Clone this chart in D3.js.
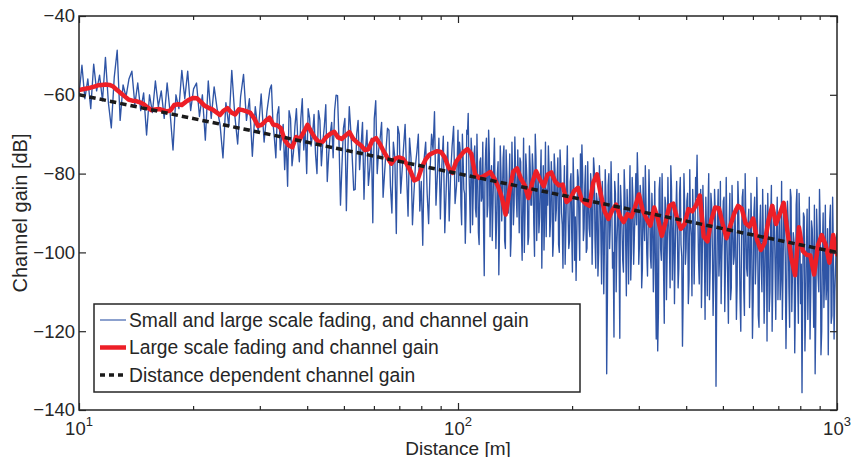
<!DOCTYPE html>
<html>
<head>
<meta charset="utf-8">
<script src="https://cdn.jsdelivr.net/npm/d3@7"></script>
<style>
  body { margin: 0; background: #fff; }
  text { font-family: "Liberation Sans", Arial, Helvetica, sans-serif; fill: #262626; }
</style>
</head>
<body>
<svg id="chart" width="853" height="457"></svg>
<script>
// Axis ranges and ticks
const xDomain = [10, 1000];
const yDomain = [-140, -40];
const yTicks = [-140, -120, -100, -80, -60, -40];
const xMajorTicks = [10, 100, 1000];
const xTickExponents = ["1", "2", "3"];
const xMinorTicks = [20, 30, 40, 50, 60, 70, 80, 90, 200, 300, 400, 500, 600, 700, 800, 900];

// Small and large scale fading [dB], 10 m .. 100 m (log-spaced samples)
const blueNear = [
  -60.0,-52.5,-61.0,-56.0,-63.5,-52.2,-59.0,-55.0,-61.5,-50.5,
  -62.0,-68.4,-55.5,-48.7,-66.5,-57.5,-60.5,-56.0,-54.0,-62.5,
  -57.0,-64.0,-59.5,-70.2,-60.0,-64.5,-56.5,-63.0,-59.0,-66.0,
  -57.0,-64.5,-74.0,-60.0,-63.5,-53.8,-61.0,-54.0,-64.0,-58.5,
  -57.0,-65.5,-60.0,-71.5,-56.5,-66.0,-58.0,-63.5,-67.5,-76.0,
  -62.0,-68.0,-53.8,-65.0,-72.5,-60.5,-54.8,-66.5,-61.0,-75.6,
  -63.0,-69.5,-59.8,-72.0,-64.0,-58.5,-67.0,-76.0,-63.0,-70.5,
  -79.0,-83.2,-66.0,-74.5,-63.5,-77.0,-61.0,-69.0,-63.5,-73.0,
  -65.0,-80.0,-66.5,-72.0,-62.5,-75.0,-67.0,-64.0,-60.2,-88.0,
  -68.5,-89.4,-63.0,-76.0,-84.0,-66.5,-73.0,-86.5,-69.0,-78.5,
  -92.5,-61.5,-74.0,-67.0,-80.0,-68.5,-83.0,-72.0,-95.2,-70.0,
  -79.0,-67.5,-90.8,-76.0,-85.0,-74.5,-89.5,-98.2,-72.0,-92.7,
  -70.0,-64.3,-80.0,-91.5,-70.5,-83.5,-92.0,-73.0,-87.6,-69.0
];

// Extra samples half-way between the near samples, 31.6 m .. 100 m
const blueNearMid = [
  -57.5,-71,-65,-74,-67.5,-71,-64,-78,
  -68,-72,-66,-74,-80,-66,-70,-75,
  -64,-78,-68,-82,-70,-76,-60.1,-72,
  -78,-66,-74,-69,-84.2,-70,-79,-67,
  -74,-83,-71,-66,-80,-71,-86,-74,
  -69,-90,-76,-68,-85,-73,-80,-71,
  -93,-78,-70,-82,-76,-85,-79,-74,
  -88,-71,-78,-95,-72,-80,-68,-83
];

// Small and large scale fading [dB], 100 m .. 1000 m (log-spaced samples)
const blueFar = [
  -72,-88,-70,-84,-97.7,-69,-64.7,-86,-71,-93,
  -75,-89,-70,-95,-77,-87,-72,-105.9,-74,-91,
  -69,-96,-78,-88,-71,-99,-80,-105.7,-73,-92,
  -76,-97,-74,-89,-83,-101,-72,-93,-70.7,-86,
  -74,-95,-77,-102,-71,-90,-79,-98,-73,-88,
  -75,-93,-70,-97,-80,-91,-74,-88,-99.4,-72,
  -84,-73,-96,-77,-101,-75,-92,-81,-98,-74,
  -90,-104,-78,-94,-73,-99,-82,-95,-76,-102,
  -107.1,-79,-93,-75,-72.7,-97,-83,-100,-77,-94,
  -80,-103,-76,-97,-85,-106,-78,-95,-82,-110.5,
  -79,-130.8,-83,-99,-77,-104,-121.5,-85,-98,-80,
  -121.8,-88,-102,-79,-97,-84,-108,-78,-100,-86,
  -96,-80,-74.7,-103,-83,-109,-81,-97,-88,-106,
  -79,-101,-85,-110,-82,-122,-125,-84,-99,-80,
  -104,-86,-112,-81,-97,-78,-107,-89,-100,-82,
  -109,-85,-98,-123.8,-80,-103,-87,-113,-79,-96,
  -84,-108,-81,-75.3,-102,-90,-114,-83,-99,-86,
  -111,-80,-104,-88,-116,-84,-134,-91,-106,-82,
  -101,-87,-115,-81,-107,-93,-112,-83,-103,-89,
  -117,-82,-98,-120,-86,-109,-80,-104,-92,-114,
  -85,-121.8,-90,-108,-81,-116,-94,-103,-84,-118,
  -88,-122.5,-97,-110,-83,-106,-91,-117,-86,-101,
  -112,-82,-105,-93,-124.4,-87,-109,-84,-115,-95,
  -125.5,-88,-107,-85,-113,-135.6,-90,-125,-98,-117,
  -86,-110,-94,-119,-130.8,-89,-106,-84,-126,-99,
  -114,-88,-108,-126,-92,-118,-86,-122,-104,-95
];

// Extra samples half-way between the far samples, 100 m .. 1000 m
const blueFarMid = [
  -82,-74,-93,-76,-85,-90,-70,-79,-95,-75,
  -84,-73,-91,-80,-98,-76,-86,-93,-81,-71,
  -88,-75,-83,-97,-78,-86,-92,-77,-94,-80,
  -85,-73,-99,-80,-90,-75,-96,-82,-88,-79,
  -91,-83,-76,-94,-86,-100,-75,-84,-96,-78,
  -88,-79,-101,-76,-86,-95,-82,-104,-78,-89,
  -96,-88,-79,-92,-83,-97,-79,-89,-76,-100,
  -79,-93,-87,-103,-82,-90,-97,-80,-105,-84,
  -91,-96,-81,-102,-86,-80,-94,-78,-99,-88,
  -96,-83,-92,-79,-104,-87,-100,-84,-108,-90,
  -97,-86,-112,-80,-93,-87,-100,-82,-110,-92,
  -99,-83,-94,-105,-85,-111,-91,-88,-107,-81,
  -103,-89,-93,-82,-98,-86,-104,-92,-78,-100,
  -93,-87,-104,-91,-98,-108,-90,-115,-81,-102,
  -92,-118,-88,-100,-92,-109,-84,-96,-113,-90,
  -95,-104,-81,-101,-110,-88,-99,-85,-107,-93,
  -111,-91,-97,-86,-89,-108,-84,-104,-92,-117,
  -95,-89,-112,-85,-99,-106,-90,-110,-84,-100,
  -113,-94,-86,-103,-96,-118,-85,-109,-93,-101,
  -98,-108,-88,-112,-97,-84,-116,-93,-106,-89,
  -105,-97,-112,-86,-101,-93,-119,-88,-110,-97,
  -107,-94,-85,-115,-92,-120,-88,-103,-95,-112,
  -90,-106,-117,-88,-101,-110,-92,-119,-86,-104,
  -97,-112,-84,-118,-94,-103,-108,-91,-114,-89,
  -104,-122,-92,-101,-88,-115,-96,-110,-93,-120,
  -90,-106,-112,-94,-104,-88,-116,-99,-110,-97
];

// Large scale fading and channel gain [dB], 10 m .. 1000 m (log-spaced samples)
const redGain = [
  -58.8,-58.6,-58.4,-58.2,-57.9,-57.6,-57.5,-57.4,-57.5,-57.9,
  -58.8,-59.6,-60.4,-61.2,-61.5,-61.6,-61.9,-62.4,-63.2,-63.9,
  -63.7,-63.6,-63.9,-64.2,-64.0,-62.6,-62.4,-62.6,-61.8,-61.2,
  -60.8,-60.9,-61.8,-62.8,-63.3,-63.7,-64.4,-65.1,-64.0,-63.4,
  -64.5,-65.0,-63.7,-63.9,-64.2,-64.6,-66.0,-67.9,-67.6,-66.6,
  -65.8,-67.6,-67.7,-68.5,-71.5,-72.8,-73.3,-70.7,-71.2,-69.5,
  -67.6,-69.4,-71.0,-72.0,-71.9,-70.6,-69.9,-69.4,-70.8,-71.2,
  -70.3,-69.5,-71.2,-72.1,-72.8,-74.0,-73.8,-71.6,-71.0,-72.5,
  -74.4,-76.0,-77.5,-76.2,-75.9,-76.2,-77.5,-79.3,-81.7,-81.3,
  -78.4,-76.4,-75.2,-74.7,-74.3,-74.5,-75.8,-78.4,-79.8,-77.0,
  -75.7,-74.5,-73.8,-75.0,-80.2,-81.1,-80.8,-80.2,-79.6,-81.2,
  -83.2,-86.0,-90.4,-84.5,-79.5,-78.7,-81.2,-83.0,-86.2,-82.3,
  -79.4,-81.5,-83.2,-80.3,-79.7,-82.0,-83.0,-82.8,-87.2,-86.4,
  -84.4,-83.6,-86.6,-87.6,-88.2,-82.3,-80.2,-85.3,-89.6,-91.5,
  -89.3,-87.9,-90.8,-92.3,-90.3,-91.0,-88.4,-85.3,-89.4,-91.5,
  -93.2,-88.6,-91.6,-95.8,-92.3,-88.2,-87.6,-91.2,-94.0,-92.8,
  -89.0,-89.6,-88.0,-85.6,-96.0,-97.2,-91.8,-88.6,-88.8,-92.8,
  -96.4,-93.2,-90.2,-88.2,-88.9,-92.6,-93.4,-91.4,-96.8,-99.4,
  -97.6,-92.0,-88.2,-92.8,-90.2,-87.4,-94.8,-101.4,-105.8,-93.6,
  -99.6,-100.6,-100.8,-105.6,-98.2,-95.6,-98.0,-102.6,-95.6,-100.5
];

// Distance dependent channel gain [dB] at 10 m and 1000 m
const pathLossDist = [10, 1000];
const pathLossGain = [-60, -100];

const legendLabels = [
  "Small and large scale fading, and channel gain",
  "Large scale fading and channel gain",
  "Distance dependent channel gain"
];

// Sampling grids (log-spaced distances)
const nN = blueNear.length - 1;           // steps per decade, near range
const nF = blueFar.length;                // steps per decade, far range
const midStart = nN - blueNearMid.length; // first near step that has a half-way sample
const nearDist = d3.range(blueNear.length).map(i => 10 * Math.pow(10, i / nN));
const nearMidDist = blueNearMid.map((_, k) => 10 * Math.pow(10, (midStart + k + 0.5) / nN));
const farDist = d3.range(nF).map(j => 100 * Math.pow(10, (j + 1) / nF));
const farMidDist = d3.range(nF).map(j => 100 * Math.pow(10, (j + 0.5) / nF));
const redDist = d3.range(redGain.length).map(i => 10 * Math.pow(100, i / (redGain.length - 1)));

const blueData = [].concat(
  nearDist.map((d, i) => [d, blueNear[i]]),
  nearMidDist.map((d, i) => [d, blueNearMid[i]]),
  farDist.map((d, i) => [d, blueFar[i]]),
  farMidDist.map((d, i) => [d, blueFarMid[i]])
).sort((a, b) => a[0] - b[0]);
const redData = redDist.map((d, i) => [d, redGain[i]]);
const pathData = pathLossDist.map((d, i) => [d, pathLossGain[i]]);

const colors = { blue: "#2f55a6", red: "#ed1f27", black: "#1a1a1a", axis: "#262626" };
const plot = { left: 79, right: 837, top: 16, bottom: 410 };

const svg = d3.select("#chart");
const x = d3.scaleLog().domain(xDomain).range([plot.left, plot.right]);
const y = d3.scaleLinear().domain(yDomain).range([plot.bottom, plot.top]);

svg.append("defs").append("clipPath").attr("id", "plotClip")
  .append("rect")
  .attr("x", plot.left).attr("y", plot.top)
  .attr("width", plot.right - plot.left).attr("height", plot.bottom - plot.top);

const line = d3.line().x(d => x(d[0])).y(d => y(d[1]));
const g = svg.append("g").attr("clip-path", "url(#plotClip)");

g.append("path").datum(blueData)
  .attr("d", line).attr("fill", "none")
  .attr("stroke", colors.blue).attr("stroke-width", 1.35).attr("stroke-linejoin", "round");

g.append("path").datum(redData)
  .attr("d", line).attr("fill", "none")
  .attr("stroke", colors.red).attr("stroke-width", 4.5)
  .attr("stroke-linejoin", "round").attr("stroke-linecap", "round");

g.append("path").datum(pathData)
  .attr("d", line).attr("fill", "none")
  .attr("stroke", colors.black).attr("stroke-width", 3.5)
  .attr("stroke-dasharray", "6.5,4");

// Axes: inward ticks on all four sides
function styleAxis(sel) {
  sel.select(".domain").remove();
  sel.selectAll(".tick line").attr("stroke", colors.axis).attr("stroke-width", 1.2);
}

svg.append("g").attr("transform", `translate(0,${plot.bottom})`)
  .call(d3.axisBottom(x).tickValues(xMajorTicks).tickSize(-7).tickFormat(""))
  .call(styleAxis);
svg.append("g").attr("transform", `translate(0,${plot.bottom})`)
  .call(d3.axisBottom(x).tickValues(xMinorTicks).tickSize(-4).tickFormat(""))
  .call(styleAxis);
svg.append("g").attr("transform", `translate(0,${plot.top})`)
  .call(d3.axisTop(x).tickValues(xMajorTicks).tickSize(-7).tickFormat(""))
  .call(styleAxis);
svg.append("g").attr("transform", `translate(0,${plot.top})`)
  .call(d3.axisTop(x).tickValues(xMinorTicks).tickSize(-4).tickFormat(""))
  .call(styleAxis);

const yAxis = svg.append("g").attr("transform", `translate(${plot.left},0)`)
  .call(d3.axisLeft(y).tickValues(yTicks).tickSize(-7).tickPadding(4).tickFormat(d3.format("d")))
  .call(styleAxis);
yAxis.selectAll(".tick text")
  .attr("font-size", 18.5).attr("fill", colors.axis)
  .style("font-family", '"Liberation Sans", Arial, sans-serif');
svg.append("g").attr("transform", `translate(${plot.right},0)`)
  .call(d3.axisRight(y).tickValues(yTicks).tickSize(-7).tickFormat(""))
  .call(styleAxis);

// Box frame
svg.append("rect")
  .attr("x", plot.left).attr("y", plot.top)
  .attr("width", plot.right - plot.left).attr("height", plot.bottom - plot.top)
  .attr("fill", "none").attr("stroke", colors.axis).attr("stroke-width", 1.5);

// Decade labels 10^n
const xLabels = svg.append("g");
xMajorTicks.forEach((v, i) => {
  const t = xLabels.append("text")
    .attr("x", x(v)).attr("y", 434.5)
    .attr("text-anchor", "middle").attr("font-size", 18.5);
  t.append("tspan").text("10");
  t.append("tspan").attr("dy", -9).attr("font-size", 13).text(xTickExponents[i]);
});

// Axis titles
svg.append("text")
  .attr("x", (plot.left + plot.right) / 2).attr("y", 455)
  .attr("text-anchor", "middle").attr("font-size", 19)
  .text("Distance [m]");
svg.append("text")
  .attr("transform", `translate(27,${(plot.top + plot.bottom) / 2}) rotate(-90)`)
  .attr("text-anchor", "middle").attr("font-size", 20)
  .text("Channel gain [dB]");

// Legend
const legend = svg.append("g");
legend.append("rect")
  .attr("x", 94).attr("y", 304).attr("width", 486).attr("height", 88)
  .attr("fill", "#fff").attr("stroke", colors.axis).attr("stroke-width", 1.5);
const legendStyles = [
  { stroke: colors.blue, width: 1.1, dash: null },
  { stroke: colors.red, width: 4.5, dash: null },
  { stroke: colors.black, width: 3.5, dash: "5,4" }
];
legendLabels.forEach((label, i) => {
  const cy = 320 + i * 27.5;
  legend.append("line")
    .attr("x1", 100).attr("x2", 126).attr("y1", cy).attr("y2", cy)
    .attr("stroke", legendStyles[i].stroke)
    .attr("stroke-width", legendStyles[i].width)
    .attr("stroke-dasharray", legendStyles[i].dash);
  legend.append("text")
    .attr("x", 129).attr("y", cy).attr("dy", "0.35em")
    .attr("font-size", 19.3).text(label);
});
</script>
</body>
</html>
